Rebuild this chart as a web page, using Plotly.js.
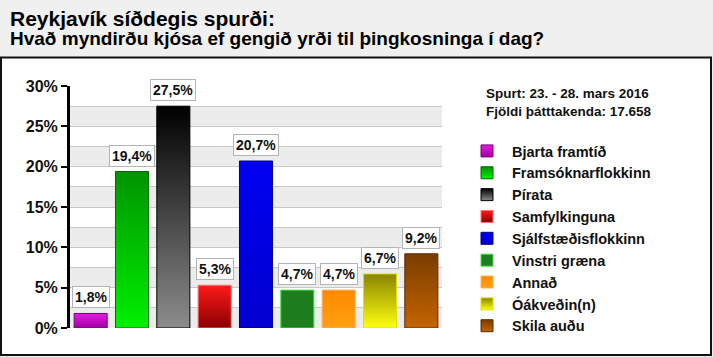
<!DOCTYPE html>
<html><head><meta charset="utf-8">
<script src="https://cdn.plot.ly/plotly-3.0.1.min.js"></script>
<style>html,body{margin:0;padding:0;background:#f0f0f0}#chart{width:713px;height:357px}</style>
</head><body><div id="chart"></div>
<script>
const categories = ["Bjarta framtíð","Framsóknarflokkinn","Pírata","Samfylkinguna","Sjálfstæðisflokkinn","Vinstri græna","Annað","Óákveðin(n)","Skila auðu"];
const values = [1.8, 19.4, 27.5, 5.3, 20.7, 4.7, 4.7, 6.7, 9.2];
const topColors = ["#e21ee2","#009400","#000000","#ff1a1a","#0000f0","#1e7e1e","#ff8a00","#8a8400","#7a3c00"];
const bottomColors = ["#a000a0","#00f000","#8c8c8c","#8a0000","#0000d0","#1e7e1e","#ffa010","#ffff10","#c46400"];
const midColors = ["#c000c0","#00c000","#444444","#cc0000","#0000e0","#1e7e1e","#ff9600","#c8c400","#a05000"];
const lineColors = ["#7a007a","#006a00","#000000","#ff7070","#000080","#3ee63e","#ffb060","#e0e000","#5a2c00"];
const yTickVals = [0, 5, 10, 15, 20, 25, 30];
const yTickText = ["0%","5%","10%","15%","20%","25%","30%"];
const titleText = "Reykjavík síðdegis spurði:";
const subtitleText = "Hvað myndirðu kjósa ef gengið yrði til þingkosninga í dag?";
const infoLines = ["Spurt: 23. - 28. mars 2016", "Fjöldi þátttakenda: 17.658"];

const W = 713, H = 357;
const M = {l: 70, r: 271, t: 86, b: 29, autoexpand: false};
const PW = W - M.l - M.r, PH = H - M.t - M.b;
const px = x => (x - M.l) / PW;
const py = y => (H - M.b - y) / PH;

const sans = '"Liberation Sans", Arial, Helvetica, sans-serif';

const traces = categories.map((c, i) => ({
  type: 'bar', x: [c], y: [values[i]], name: c,
  marker: {color: midColors[i], line: {color: lineColors[i], width: 1}},
  hoverinfo: 'skip'
}));

const shapes = [
  {type: 'rect', xref: 'paper', yref: 'paper', x0: px(1), x1: px(711), y0: py(355), y1: py(57.5),
   fillcolor: '#ffffff', line: {color: '#111111', width: 2}, layer: 'below'}
];
for (let v = 0; v < 30; v += 5) {
  shapes.push({type: 'rect', xref: 'paper', yref: 'y', x0: 0, x1: 1, y0: v, y1: v + 2.5,
    fillcolor: '#ececec', line: {width: 0}, layer: 'below'});
}

const annotations = values.map((v, i) => ({
  x: categories[i], y: v, xref: 'x', yref: 'y',
  text: v.toFixed(1).replace('.', ',') + '%',
  showarrow: false, yanchor: 'bottom', yshift: 5,
  bgcolor: '#ffffff', bordercolor: '#b4b4b4', borderwidth: 1, borderpad: 2,
  font: {family: sans, size: 14, color: '#111111', weight: 'bold'}
}));
annotations.push({
  xref: 'paper', yref: 'paper', x: px(484), y: py(84),
  xanchor: 'left', yanchor: 'top', showarrow: false, align: 'left',
  text: infoLines.join('<br>'),
  font: {family: sans, size: 13.5, color: '#111111', weight: 'bold'}
});
annotations.push({
  xref: 'paper', yref: 'paper', x: px(8), y: py(5), xanchor: 'left', yanchor: 'top',
  showarrow: false, align: 'left',
  text: '<span style="font-size:21px">' + titleText + '</span><br>' +
        '<span style="font-size:19px">' + subtitleText + '</span>',
  font: {family: sans, size: 14.5, color: '#000000', weight: 'bold'}
});

const layout = {
  width: W, height: H, margin: M,
  paper_bgcolor: '#f0f0f0', plot_bgcolor: 'rgba(0,0,0,0)',
  barmode: 'overlay', bargap: 0.2,
  showlegend: true,
  legend: {x: px(462), y: py(135), xanchor: 'left', yanchor: 'top', itemwidth: 40,
    maxheight: 330,
    bgcolor: 'rgba(0,0,0,0)', font: {family: sans, size: 14.5, color: '#111111', weight: 'bold'},
    itemclick: false, itemdoubleclick: false},
  xaxis: {type: 'category', categoryorder: 'array', categoryarray: categories,
    showticklabels: false, showgrid: false, zeroline: false, showline: false, ticks: '',
    fixedrange: true},
  yaxis: {range: [0, 30], tickvals: yTickVals, ticktext: yTickText,
    showline: true, linecolor: '#000000', linewidth: 3,
    ticks: 'outside', ticklen: 6, tickwidth: 2, tickcolor: '#000000',
    showgrid: true, gridcolor: '#c8c8c8', gridwidth: 1, zeroline: false,
    minor: {dtick: 2.5, tick0: 0, showgrid: true, gridcolor: '#c8c8c8', gridwidth: 1, ticks: ''},
    tickfont: {family: sans, size: 16, color: '#111111', weight: 'bold'},
    fixedrange: true},
  shapes: shapes, annotations: annotations
};

Plotly.newPlot('chart', traces, layout, {displayModeBar: false, staticPlot: true}).then(gd => {
  const svg = gd.querySelector('svg.main-svg');
  const ns = 'http://www.w3.org/2000/svg';
  let defs = svg.querySelector('defs');
  if (!defs) { defs = document.createElementNS(ns, 'defs'); svg.insertBefore(defs, svg.firstChild); }
  categories.forEach((c, i) => {
    const g = document.createElementNS(ns, 'linearGradient');
    g.setAttribute('id', 'barGrad' + i);
    g.setAttribute('x1', '0'); g.setAttribute('y1', '0');
    g.setAttribute('x2', '0'); g.setAttribute('y2', '1');
    [[0, topColors[i]], [1, bottomColors[i]]].forEach(([o, col]) => {
      const s = document.createElementNS(ns, 'stop');
      s.setAttribute('offset', o); s.setAttribute('stop-color', col);
      g.appendChild(s);
    });
    defs.appendChild(g);
  });
  gd.querySelectorAll('.barlayer .trace').forEach((tr, i) => {
    tr.querySelectorAll('path').forEach(p => { p.style.fill = 'url(#barGrad' + i + ')'; });
  });
  gd.querySelectorAll('.legend .traces').forEach((tr, i) => {
    tr.querySelectorAll('.legendpoints path').forEach(p => { p.style.fill = 'url(#barGrad' + i + ')'; });
  });
});
</script>
</body></html>
